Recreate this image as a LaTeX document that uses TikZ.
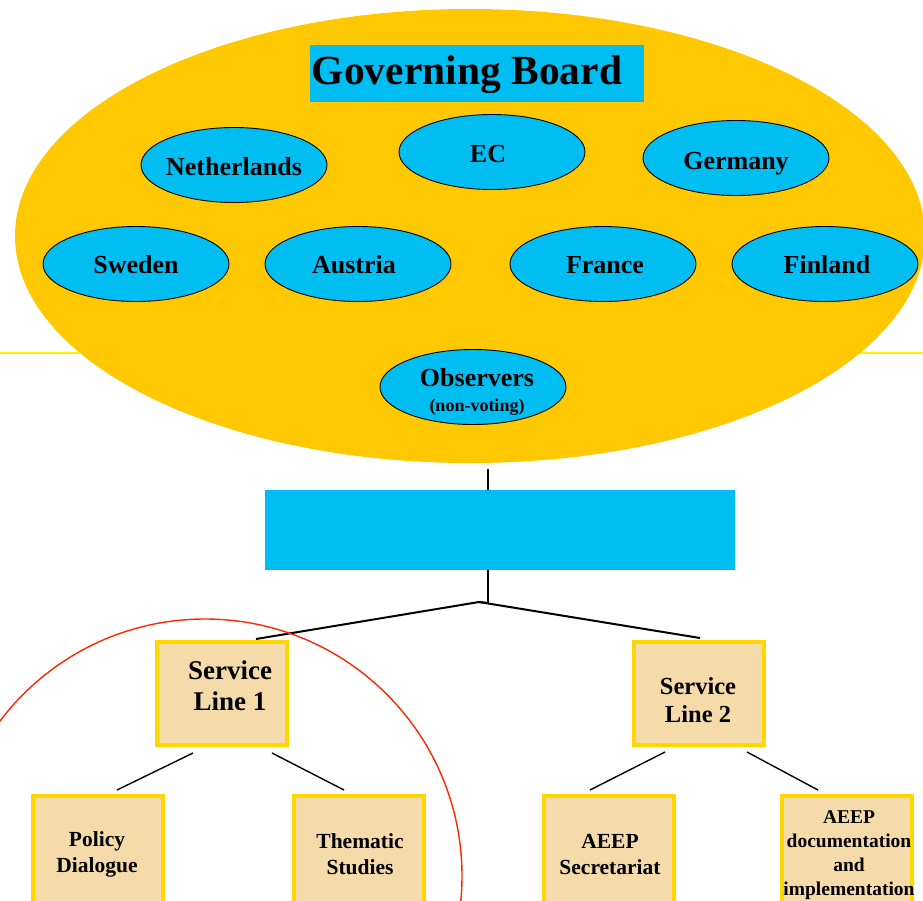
\documentclass[tikz,border=0pt]{standalone}
\usepackage{fontspec}
\setmainfont{Liberation Serif}
\usetikzlibrary{shapes.geometric}
\definecolor{gbyellow}{RGB}{255,200,0}
\definecolor{cyanblue}{RGB}{0,190,242}
\definecolor{boxfill}{RGB}{245,219,170}
\definecolor{boxborder}{RGB}{255,214,0}
\definecolor{thinyellow}{RGB}{255,240,0}
\definecolor{circred}{RGB}{255,40,0}
\begin{document}
\begin{tikzpicture}[x=1pt,y=-1pt,
  bigell/.style={ellipse, fill=gbyellow, minimum width=910pt, minimum height=454pt, inner sep=0pt},
  member/.style={ellipse, fill=cyanblue, draw=black, line width=0.9pt, minimum width=186pt, minimum height=75pt, inner sep=0pt, font=\bfseries\fontsize{26}{28}\selectfont},
  memlabel/.style={inner sep=0pt, anchor=base, font=\bfseries\fontsize{26}{28}\selectfont},
  slbox/.style={rectangle, fill=boxfill, draw=boxborder, line width=4pt, minimum width=130pt, minimum height=103pt, inner sep=0pt},
  leafbox/.style={rectangle, fill=boxfill, draw=boxborder, line width=4pt, minimum width=130pt, minimum height=110pt, inner sep=0pt},
  boxtext/.style={align=center, inner sep=0pt, font=\bfseries},
  link/.style={draw=black, line width=2pt},
  sublink/.style={draw=black, line width=1.4pt}
]
\useasboundingbox (0,0) rectangle (923,900);
\clip (0,0) rectangle (923,900);
% thin yellow line
\coordinate (hl) at (0,353);
\coordinate (hr) at (923,353);
\draw[thinyellow, line width=1.5pt] (hl) -- (hr);
% governing board ellipse
\node[bigell] (gb) at (470,236) {};
\node[rectangle, fill=cyanblue, minimum width=334pt, minimum height=57pt, inner sep=0pt] (gbtitlebox) at (477,73.5) {};
\node[inner sep=0pt, anchor=base, font=\bfseries\fontsize{41.5}{44}\selectfont] (gbtitle) at (467,84) {Governing Board};
% members
\node[member] (nl) at (234,165) {};
\node[memlabel] (nlt) at (234,175) {Netherlands};
\node[member] (ec) at (492,152) {};
\node[memlabel] (ect) at (488,162) {EC};
\node[member] (de) at (736,158) {};
\node[memlabel] (det) at (736,169) {Germany};
\node[member] (se) at (136,264) {};
\node[memlabel] (set) at (136,273) {Sweden};
\node[member] (at) at (358,264) {};
\node[memlabel] (att) at (354,273) {Austria};
\node[member] (fr) at (603,264) {};
\node[memlabel] (frt) at (605,273) {France};
\node[member] (fi) at (825,264) {};
\node[memlabel] (fit) at (827,273) {Finland};
\node[member] (obs) at (473,387) {};
\node[memlabel] (obst) at (477,386) {Observers};
\node[inner sep=0pt, anchor=base, font=\bfseries\fontsize{18}{20}\selectfont] (obsn) at (477,411) {(non-voting)};
% management box
\node[rectangle, fill=cyanblue, minimum width=470pt, minimum height=80pt, inner sep=0pt] (mgmt) at (500,530) {};
% connectors top
\coordinate (gbfoot) at (488,469);
\coordinate (mtop) at (488,490);
\coordinate (mbot) at (488,570);
\coordinate (apexr) at (488,603);
\coordinate (apex) at (479,602);
\draw[link] (gbfoot) -- (mtop);
\draw[link] (mbot) -- (apexr);
% service lines
\node[slbox] (sl1) at (221.5,693) {};
\node[boxtext, font=\bfseries\fontsize{27}{31}\selectfont] (sl1t) at (230,686) {Service\\Line 1};
\node[slbox] (sl2) at (698.5,693) {};
\node[boxtext, font=\bfseries\fontsize{24.5}{28}\selectfont] (sl2t) at (698,700) {Service\\Line 2};
\coordinate (sl1top) at (256,639);
\coordinate (sl2top) at (700,638);
\draw[link, line join=round] (sl1top) -- (apex) -- (apexr);
\draw[link] (apex) -- (sl2top);
% leaves
\node[leafbox] (pd) at (97.5,851) {};
\node[boxtext, font=\bfseries\fontsize{21.5}{26}\selectfont] (pdt) at (97,854) {Policy\\Dialogue};
\node[leafbox] (ts) at (358.5,851) {};
\node[boxtext, font=\bfseries\fontsize{21.5}{26}\selectfont] (tst) at (360,854) {Thematic\\Studies};
\node[leafbox] (as) at (608.5,851) {};
\node[boxtext, font=\bfseries\fontsize{21.5}{26}\selectfont] (ast) at (610,854) {AEEP\\Secretariat};
\node[leafbox] (ad) at (846.5,851) {};
\node[boxtext, font=\bfseries\fontsize{19.5}{24}\selectfont] (adt) at (849,855) {AEEP\\documentation\\and\\implementation};
% sub connectors
\coordinate (a1) at (193,753); \coordinate (b1) at (117,790);
\coordinate (a2) at (272,753); \coordinate (b2) at (344,790);
\coordinate (a3) at (665,752); \coordinate (b3) at (590,790);
\coordinate (a4) at (747,752); \coordinate (b4) at (818,790);
\draw[sublink] (a1) -- (b1);
\draw[sublink] (a2) -- (b2);
\draw[sublink] (a3) -- (b3);
\draw[sublink] (a4) -- (b4);
% red circle
\coordinate (rc) at (205,876);
\draw[circred, line width=1.4pt] (rc) circle[radius=257pt];
\end{tikzpicture}
\end{document}
